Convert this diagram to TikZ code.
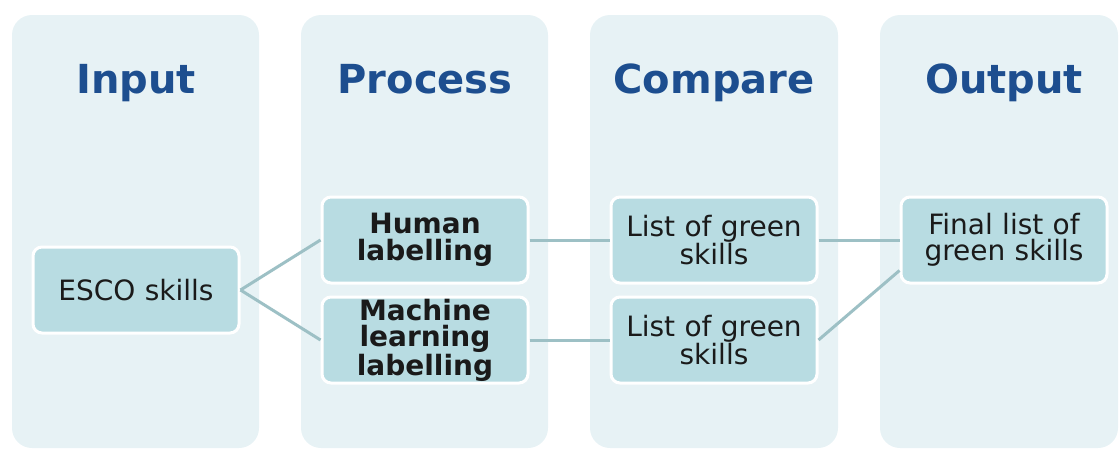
\documentclass[tikz,border=0pt]{standalone}
\usepackage{fontspec}
\setmainfont{DejaVu Sans}
\definecolor{panelbg}{HTML}{E7F2F5}
\definecolor{boxfill}{HTML}{B8DCE2}
\definecolor{headblue}{HTML}{1D4E8F}
\definecolor{linkcol}{HTML}{9DC0C5}
\definecolor{inktext}{HTML}{1A1A1A}
\tikzset{
  panel/.style={fill=panelbg, rounded corners=20pt, draw=none},
  header/.style={text=headblue, anchor=base, inner sep=0pt,
    font=\fontsize{40}{42}\selectfont\bfseries},
  stagebox/.style={fill=boxfill, draw=white, line width=3pt, rounded corners=9pt,
    minimum width=206pt, minimum height=86pt, text width=204pt, align=center,
    text=inktext, font=\fontsize{28}{26.5}\selectfont, inner sep=0pt},
  boldbox/.style={stagebox, font=\fontsize{28}{26.5}\selectfont\bfseries},
  link/.style={draw=linkcol, line width=3pt}
}
\begin{document}
\begin{tikzpicture}[x=1pt, y=-1pt]
  \useasboundingbox (0,0) rectangle (1119,450);
  % column panels
  \fill[panel] (12,15) rectangle (259,448);
  \fill[panel] (301,15) rectangle (548,448);
  \fill[panel] (590,15) rectangle (838,448);
  \fill[panel] (880,15) rectangle (1118,448);
  % column headings
  \node[header] (hin)  at (136,93)  {Input};
  \node[header] (hpr)  at (425,93)  {Process};
  \node[header] (hcmp) at (714,93)  {Compare};
  \node[header] (hout) at (1004,93) {Output};
  % stages
  \node[stagebox] (esco)  at (136,290)  {ESCO skills};
  \node[boldbox]  (human) at (425,240)  {Human\\labelling};
  \node[boldbox]  (mach)  at (425,340)  {Machine\\learning\\labelling};
  \node[stagebox] (list1) at (714,240)  {List of green\\skills};
  \node[stagebox] (list2) at (714,340)  {List of green\\skills};
  \node[stagebox] (final) at (1004,240) {Final list of\\green skills};
  % links between stages
  \draw[link] (esco.east) -- (human.west);
  \draw[link] (esco.east) -- (mach.west);
  \draw[link] (human.east) -- (list1.west);
  \draw[link] (mach.east) -- (list2.west);
  \draw[link] (list1.east) -- (final.west);
  \draw[link] (list2.east) -- ([yshift=14pt]final.south west);
\end{tikzpicture}
\end{document}
